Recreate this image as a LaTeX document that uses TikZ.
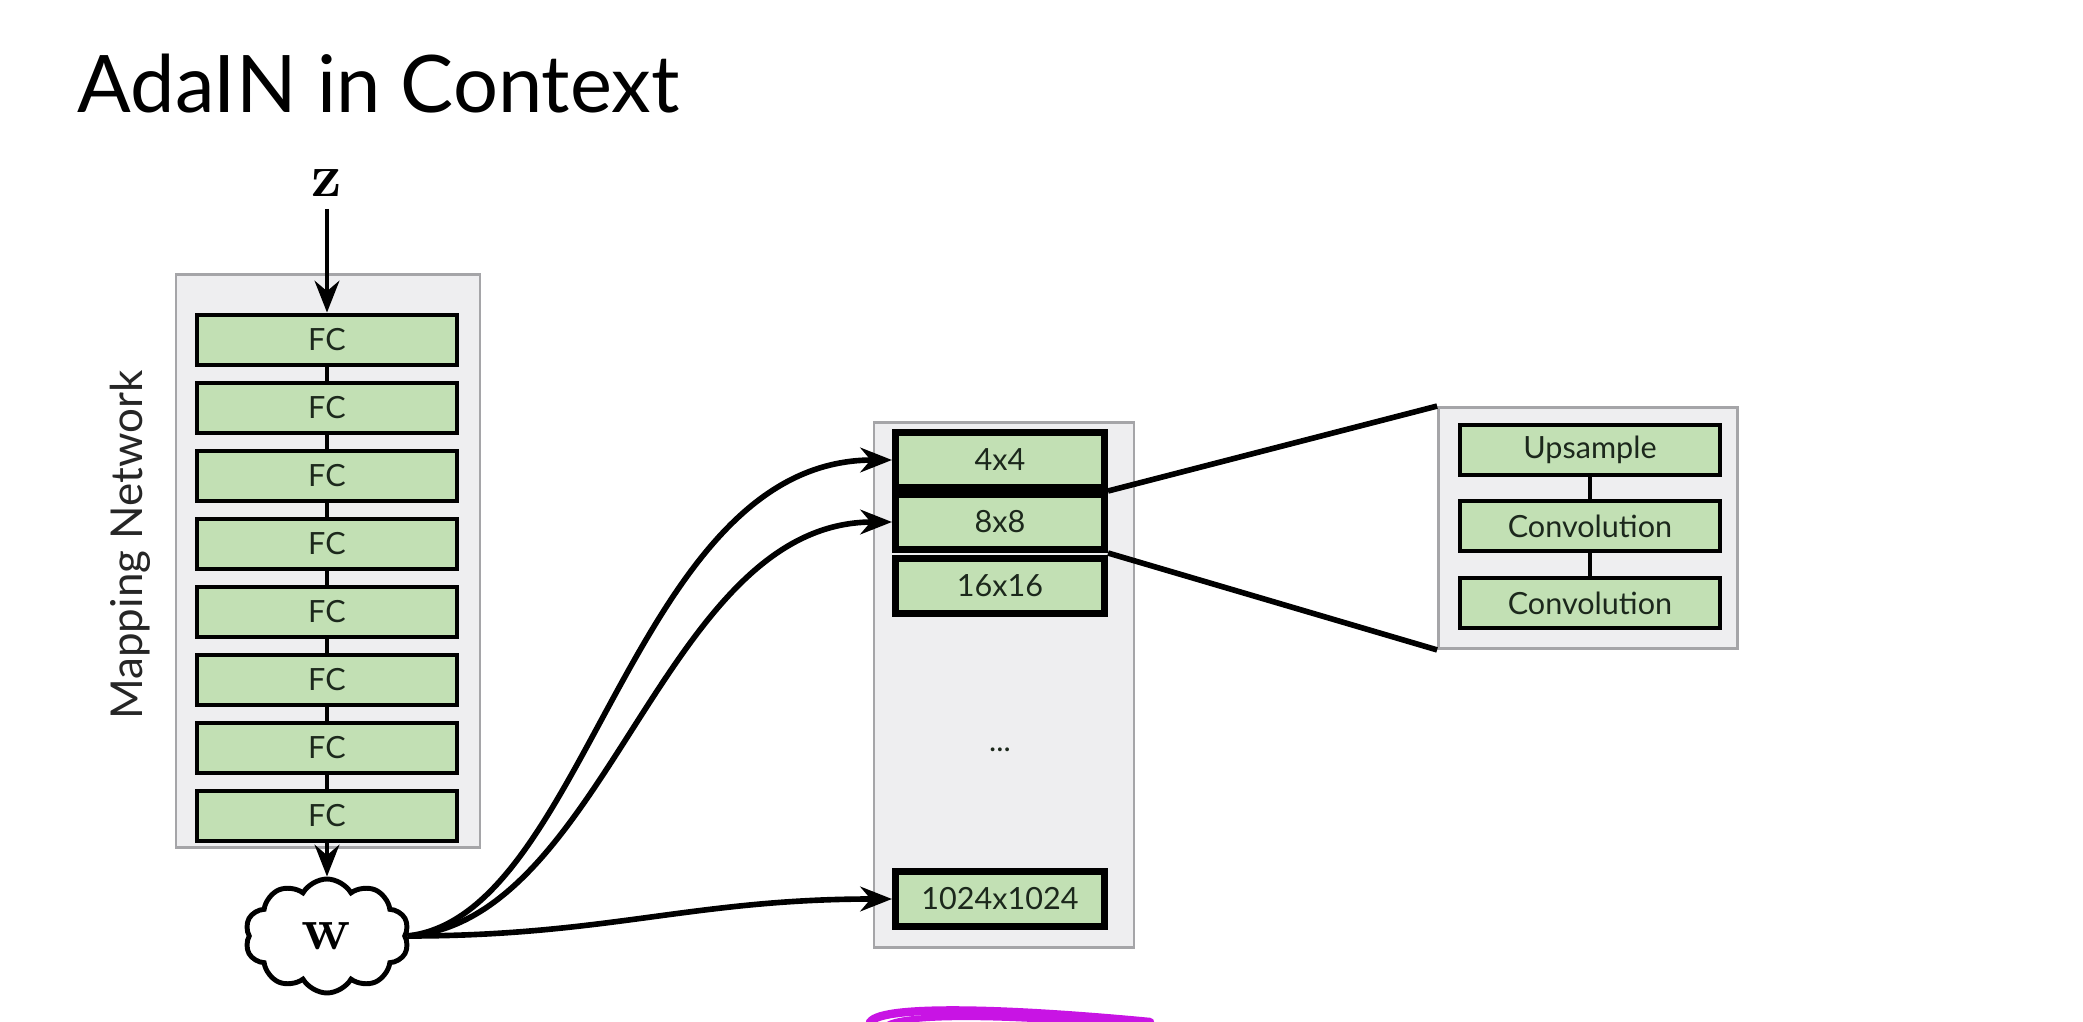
\documentclass[tikz,border=0pt]{standalone}
\usepackage[no-math]{fontspec}
\setmainfont{Lato}
\usetikzlibrary{arrows.meta,shapes.symbols}
\definecolor{boxgreen}{RGB}{194,224,180}
\definecolor{panelgray}{RGB}{238,238,240}
\definecolor{edgegray}{RGB}{165,165,168}
\definecolor{boxtext}{RGB}{28,40,28}
\definecolor{pen}{RGB}{200,20,228}
\begin{document}
\begin{tikzpicture}[
	panel/.style={draw=edgegray,fill=panelgray,line width=.8pt,inner sep=0pt},
	fc/.style={draw,fill=boxgreen,line width=1.4pt,minimum width=2.6cm,minimum height=.5cm,inner sep=0pt,text=boxtext,font=\fontsize{8.7}{10}\selectfont},
	res/.style={fc,line width=2pt,minimum width=2.09cm,minimum height=.55cm},
	wire/.style={line width=1.6pt,-{Stealth[length=9pt,width=7pt]}},
	link/.style={line width=1.4pt}]
\useasboundingbox (0,0) rectangle (20.83,-10.22);
\node[anchor=base west,inner sep=0pt,font=\fontsize{22.6}{27}\selectfont] (title) at (.77,-1.13) {AdaIN in Context};
% mapping network
\node[panel,minimum width=3.04cm,minimum height=5.73cm] (mapbox) at (3.28,-5.61) {};
\node[rotate=90,text=black!85,font=\fontsize{12.5}{15}\selectfont] (maplabel) at (1.3,-5.45) {Mapping Network};
\node[font=\fontsize{17}{20}\selectfont] (z) at (3.27,-1.83) {$\mathbf{z}$};
\node[fc] (fc1) at (3.27,-3.40) {FC};
\node[fc] (fc2) at (3.27,-4.08) {FC};
\node[fc] (fc3) at (3.27,-4.76) {FC};
\node[fc] (fc4) at (3.27,-5.44) {FC};
\node[fc] (fc5) at (3.27,-6.12) {FC};
\node[fc] (fc6) at (3.27,-6.80) {FC};
\node[fc] (fc7) at (3.27,-7.48) {FC};
\node[fc] (fc8) at (3.27,-8.16) {FC};
\node[cloud,draw,fill=white,line width=1.4pt,cloud puffs=10,cloud puff arc=120,aspect=1.4,inner sep=0pt,minimum width=1.64cm,minimum height=1.14cm,font=\fontsize{17}{20}\selectfont] (w) at (3.27,-9.36) {$\mathbf{w}$};
\draw[link] (fc1)--(fc2) (fc2)--(fc3) (fc3)--(fc4) (fc4)--(fc5) (fc5)--(fc6) (fc6)--(fc7) (fc7)--(fc8);
\draw[wire,line width=1.4pt] (z)--(fc1);
\draw[wire,line width=1.4pt] (fc8)--(w);
% synthesis network
\node[panel,minimum width=2.6cm,minimum height=5.25cm] (synbox) at (10.04,-6.85) {};
\node[res] (r4) at (10,-4.60) {4x4};
\node[res] (r8) at (10,-5.22) {8x8};
\node[res] (r16) at (10,-5.86) {16x16};
\node[text=boxtext,font=\fontsize{8.7}{10}\selectfont] (dots) at (10,-7.50) {...};
\node[res] (r1024) at (10,-8.99) {1024x1024};
\draw[wire] (w.east) .. controls +(1.8,.2) and +(-2.6,0) .. (r4.west);
\draw[wire] (w.east) .. controls +(2,.15) and +(-2.3,0) .. (r8.west);
\draw[wire] (w.east) .. controls +(2,0) and +(-2,0) .. (r1024.west);
% block detail
\node[panel,minimum width=2.99cm,minimum height=2.41cm] (blockbox) at (15.88,-5.28) {};
\node[fc] (up) at (15.9,-4.50) {Upsample};
\node[fc] (conv1) at (15.9,-5.26) {Convolution};
\node[fc] (conv2) at (15.9,-6.03) {Convolution};
\draw[link] (up)--(conv1) (conv1)--(conv2);
\draw[line width=1.6pt] (r4.south east)--(blockbox.north west);
\draw[line width=1.6pt] (r8.south east)--(blockbox.south west);
% pen stroke
\draw[pen,line width=2.4pt,line cap=round] (8.72,-10.3) .. controls (8.5,-10.06) and (9.7,-10.05) .. (11.5,-10.22);
\draw[pen,line width=1.8pt,line cap=round] (8.85,-10.3) .. controls (8.8,-10.15) and (9.8,-10.12) .. (11.3,-10.26);
\end{tikzpicture}
\end{document}
